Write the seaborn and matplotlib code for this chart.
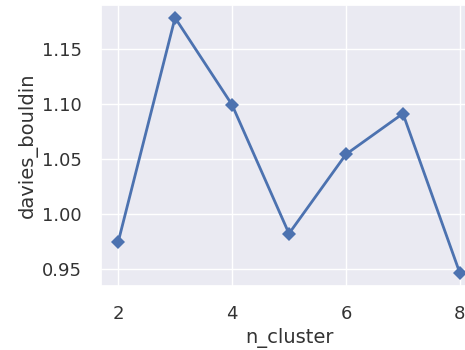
import matplotlib
matplotlib.use("Agg")
import matplotlib.pyplot as plt
import seaborn as sns
import pandas as pd

n_cluster = [2, 3, 4, 5, 6, 7, 8]
davies_bouldin = [0.974, 1.178, 1.099, 0.982, 1.054, 1.091, 0.946]

sns.set_theme(style="darkgrid")
plt.rcParams['font.family'] = ['DejaVu Sans']

df = pd.DataFrame({"n_cluster": n_cluster, "davies_bouldin": davies_bouldin})

fig = plt.figure(figsize=(4.65, 3.5), dpi=100)
W, H = 465, 350
# axes extends beyond the right edge (reference is cropped)
ax = fig.add_axes([101 / W, 1 - 286 / H, 376 / W, 281 / H])
sns.lineplot(data=df, x="n_cluster", y="davies_bouldin", marker="D",
             markersize=7, markeredgewidth=0, linewidth=2, color="#4C72B0", ax=ax)
ax.set_xticks([2, 4, 6, 8])
ax.set_yticks([0.95, 1.00, 1.05, 1.10, 1.15])
ax.set_yticklabels(["0.95", "1.00", "1.05", "1.10", "1.15"])
ax.tick_params(labelsize=13, colors="#333333", pad=8)
ax.set_xlabel("n_cluster", fontsize=14, color="#333333", labelpad=3)
ax.set_ylabel("davies_bouldin", fontsize=14, color="#333333", labelpad=3)

fig.savefig("out.png", dpi=100)
